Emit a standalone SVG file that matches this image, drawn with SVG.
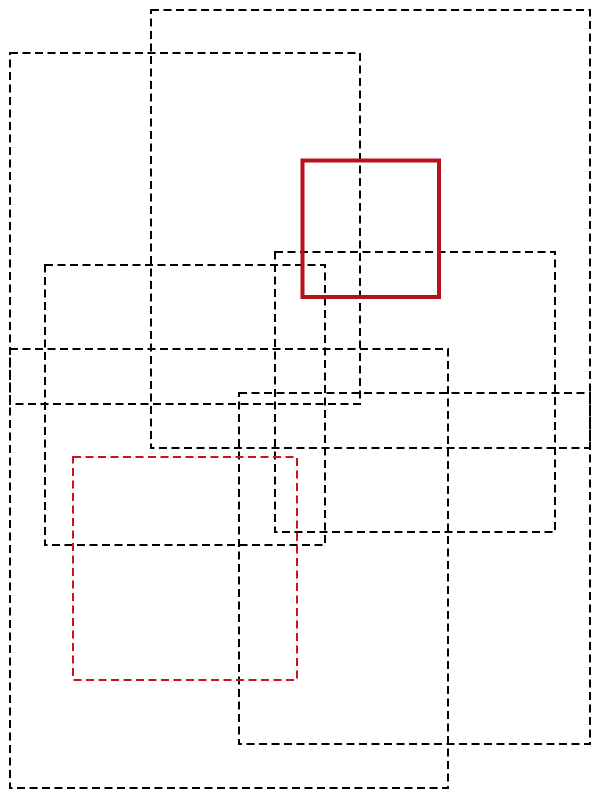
<svg xmlns="http://www.w3.org/2000/svg" width="600" height="800" viewBox="0 0 600 800">
<style>
.d{fill:none;stroke:#000;stroke-width:2;stroke-dasharray:8 4.5}
.rd{fill:none;stroke:#c8141c;stroke-width:2;stroke-dasharray:8 4.5}
.rs{fill:none;stroke:#b5121b;stroke-width:4}
</style>
<rect width="600" height="800" fill="#fff"/>
<g id="r1"><rect class="d" x="151" y="10" width="439" height="438"/></g>
<g id="r2"><rect class="d" x="10" y="53" width="350" height="351"/></g>
<g id="r4"><rect class="d" x="275" y="252" width="280" height="280"/></g>
<g id="r5"><rect class="d" x="45" y="265" width="280" height="280"/></g>
<g id="r6"><rect class="d" x="10" y="349" width="438" height="439"/></g>
<g id="r7"><rect class="d" x="239" y="393" width="351" height="351"/></g>
<g id="r8"><rect class="rd" x="73" y="457" width="224" height="223"/></g>
<g id="r3"><rect class="rs" x="302.5" y="160.5" width="136.5" height="136.5"/></g>
</svg>
